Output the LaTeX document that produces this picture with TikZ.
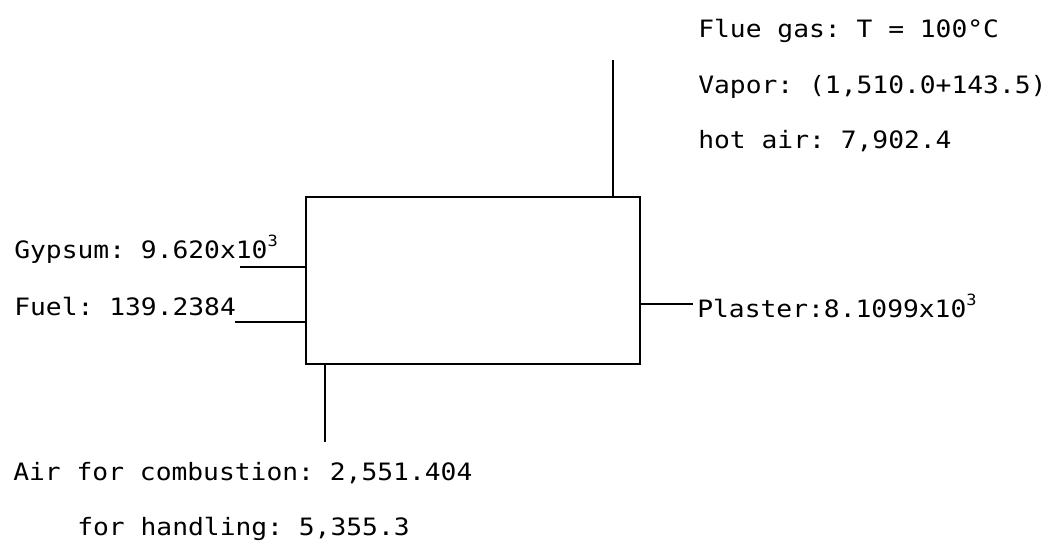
\documentclass[tikz,border=0pt]{standalone}
\usepackage{fontspec}
\setmonofont[FakeStretch=1.1]{DejaVu Sans Mono}
\usetikzlibrary{positioning}
\newcommand{\expo}[1]{\raisebox{.5em}{\fontsize{11}{11}\selectfont #1}}
\tikzset{
  >=latex,
  % the calciner box
  unit/.style={draw,line width=1.4pt,minimum width=8.35cm,minimum height=4.175cm,inner sep=0},
  % streams and their labels
  stream/.style={line width=1.4pt},
  flowtext/.style={font=\ttfamily\fontsize{17}{20}\selectfont,inner sep=0,anchor=base west}
}
\begin{document}
\begin{tikzpicture}[x=0.025cm,y=-0.025cm]
    \useasboundingbox (0,0) rectangle (1050,540);
    \node[unit] (box) at (473,280.5) {};
    % outlet on top
    \node[flowtext] (flue) at (698,37) {Flue gas: T = 100°C};
    \node[flowtext] (vapor) at (698,93) {Vapor: (1,510.0+143.5)};
    \node[flowtext] (hotair) at (698,148) {hot air: 7,902.4};
    \coordinate (fluetop) at (613,60);
    \draw[stream] (fluetop) -- (fluetop |- box.north);
    % feeds on the left
    \node[flowtext] (gypsum) at (14,258) {Gypsum: 9.620x10\expo{3}};
    \node[flowtext] (fuel) at (14,315) {Fuel: 139.2384};
    \coordinate (gypin) at (240,267);
    \coordinate (fuelin) at (235,322);
    \draw[stream] (gypin) -- (gypin -| box.west);
    \draw[stream] (fuelin) -- (fuelin -| box.west);
    % product on the right
    \node[flowtext] (plaster) at (697,317) {Plaster:8.1099x10\expo{3}};
    \coordinate (plout) at (693,304);
    \draw[stream] (plout -| box.east) -- (plout);
    % air from below
    \node[flowtext] (aircomb) at (13,480) {Air for combustion: 2,551.404};
    \node[flowtext] (airhand) at (77,535) {for handling: 5,355.3};
    \coordinate (airin) at (325,442);
    \draw[stream] (airin) -- (airin |- box.south);
  \end{tikzpicture}
\end{document}
